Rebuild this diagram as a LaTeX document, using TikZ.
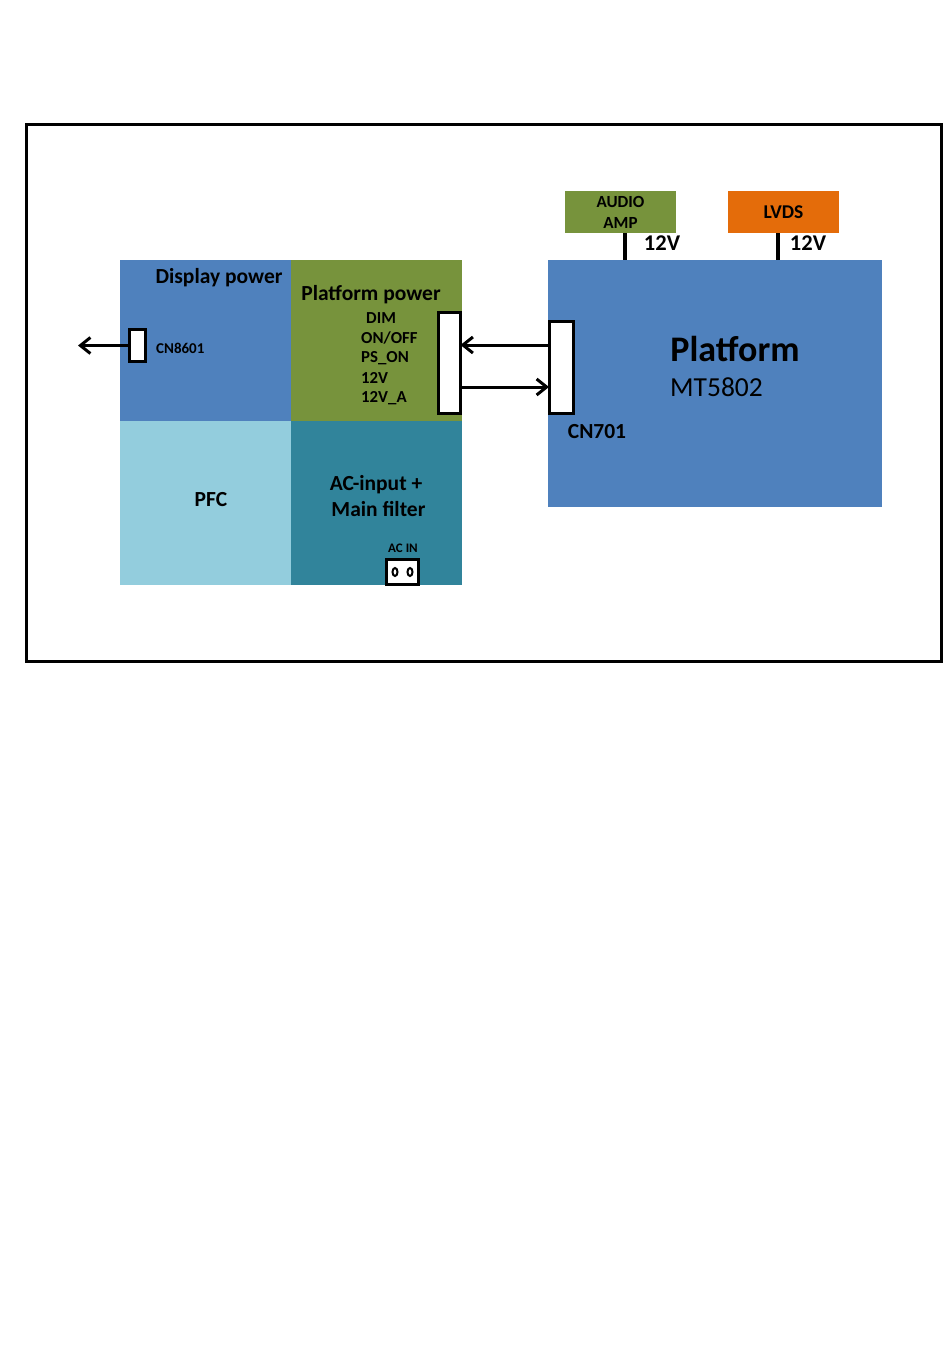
\documentclass[tikz,border=0pt]{standalone}
\usepackage{fontspec}
\setmainfont{Carlito}
\usetikzlibrary{arrows.meta,positioning,calc}

\definecolor{dispblue}{HTML}{4F81BD}
\definecolor{platgreen}{HTML}{77933C}
\definecolor{pfcblue}{HTML}{93CDDD}
\definecolor{acteal}{HTML}{31849B}
\definecolor{lvdsorange}{HTML}{E46C0A}

\begin{document}
\begin{tikzpicture}[x=1pt, y=-1pt, >={Straight Barb[length=10pt,width=16pt]}]

%local definitions
\tikzstyle{Block} = [rectangle, inner sep=0pt, outer sep=0pt, anchor=north west]
\tikzstyle{Conn} = [draw, fill=white, line width=3pt, rectangle, inner sep=0pt, outer sep=0pt]
\tikzstyle{Lbl} = [inner sep=0pt, font=\bfseries\fontsize{21.5}{26}\selectfont]
\tikzstyle{Pin} = [inner sep=0pt, anchor=west, font=\bfseries\fontsize{16.8}{18}\selectfont]
\tikzstyle{sig} = [line width=3pt, ->]

\useasboundingbox (0,0) rectangle (950,1370);

%outer frame
\draw [line width=3pt] (26.5,124.5) rectangle (941.5,661.5);

%power board
	\node [Block, fill=dispblue, minimum width=171pt, minimum height=161pt] (dispPower) at (120,260) {};
	\node [Block, fill=platgreen, minimum width=171pt, minimum height=161pt] (platPower) at (291,260) {};
	\node [Block, fill=pfcblue, minimum width=171pt, minimum height=164pt] (pfc) at (120,421) {};
	\node [Block, fill=acteal, minimum width=171pt, minimum height=164pt] (acInput) at (291,421) {};

%platform board
	\node [Block, fill=dispblue, minimum width=334pt, minimum height=247pt] (platform) at (548,260) {};
	\node [Block, fill=platgreen, minimum width=111pt, minimum height=42pt] (audioAmp) at (565,191) {};
	\node [Block, fill=lvdsorange, minimum width=111pt, minimum height=42pt] (lvds) at (728,191) {};

%connectors
	\node [Conn, minimum width=22pt, minimum height=101pt] (ppConn) at (449.5,362.5) {};
	\node [Conn, minimum width=24pt, minimum height=92pt] (cn701) at (561,367) {};
	\node [Conn, minimum width=16pt, minimum height=32pt] (cn8601) at (137.5,345.5) {};
	\node [Conn, line width=2.5pt, minimum width=32pt, minimum height=25pt] (acSocket) at (402.5,572) {};
	\draw [line width=2pt, fill=white] ([xshift=-7.5pt]acSocket.center) ellipse [x radius=2.5pt, y radius=4pt];
	\draw [line width=2pt, fill=white] ([xshift=7.5pt]acSocket.center) ellipse [x radius=2.5pt, y radius=4pt];

%block names
	\node [Lbl] (dispName) at (219,278) {Display power};
	\node [Lbl] (platPowerName) at (371,295) {Platform power};
	\node [Pin] (pinDim) at (366,318) {DIM};
	\node [Pin] (pinOnOff) at (361,338) {ON/OFF};
	\node [Pin] (pinPsOn) at (361,358) {PS\_ON};
	\node [Pin] (pinTwelve) at (361,378) {12V};
	\node [Pin] (pinTwelveA) at (361,398) {12V\_A};
	\node [Lbl] (pfcName) at (211,500) {PFC};
	\node [Lbl, align=center] (acName) at (376,496) {AC-input +\\ \ Main filter};
	\node [inner sep=0pt, font=\bfseries\fontsize{13}{15}\selectfont] (acInName) at (403,548) {AC IN};
	\node [Pin, font=\bfseries\fontsize{15}{17}\selectfont] (cn8601Name) at (156,348) {CN8601};
	\node [inner sep=0pt, font=\bfseries\fontsize{36}{40}\selectfont] (platName) at (735,349) {Platform};
	\node [inner sep=0pt, anchor=west, font=\fontsize{27.5}{30}\selectfont] (chipName) at (670,387) {MT5802};
	\node [Lbl] (cn701Name) at (597,432) {CN701};
	\node [inner sep=0pt, align=center, font=\bfseries\fontsize{17}{21}\selectfont] (audioName) at (620.5,212.5) {AUDIO\\AMP};
	\node [inner sep=0pt, font=\bfseries\fontsize{19.5}{22}\selectfont] (lvdsName) at (783.5,212) {LVDS};
	\node [Lbl, font=\bfseries\fontsize{22.5}{24}\selectfont] (audioVolt) at (662,243) {12V};
	\node [Lbl, font=\bfseries\fontsize{22.5}{24}\selectfont] (lvdsVolt) at (808,243) {12V};

%connections
	\coordinate (dispOut) at (78,345.5);
	\draw [sig] (cn8601.west) -- (dispOut);
	\draw [sig] ([yshift=22pt]cn701.west) -- ([yshift=22pt]cn701.west -| ppConn.east);
	\draw [sig] ([yshift=-20pt]ppConn.east |- cn701.west) -- ([yshift=-20pt]cn701.west);

	%supply lines
	\draw [line width=4pt] ([xshift=4.5pt]audioAmp.south) -- ([xshift=4.5pt]audioAmp.south |- platform.north);
	\draw [line width=4pt] ([xshift=-5.5pt]lvds.south) -- ([xshift=-5.5pt]lvds.south |- platform.north);

\end{tikzpicture}
\end{document}
